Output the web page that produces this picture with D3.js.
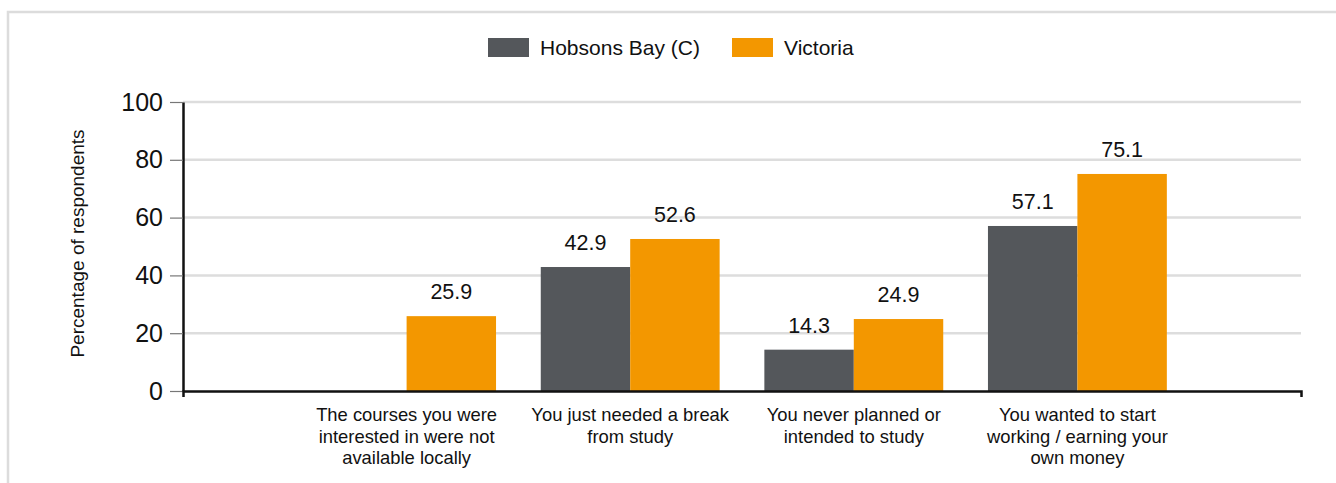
<!DOCTYPE html>
<html>
<head>
<meta charset="utf-8">
<script src="https://cdn.jsdelivr.net/npm/d3@7"></script>
<style>
  body { margin: 0; background: #fff; font-family: "Liberation Sans", Arial, sans-serif; }
  #chart { position: absolute; left: 0; top: 0; }
</style>
</head>
<body>
<div id="chart"></div>
<script>
const categories = [
  "The courses you were interested in were not available locally",
  "You just needed a break from study",
  "You never planned or intended to study",
  "You wanted to start working / earning your own money"
];
const categoryLines = [
  ["The courses you were", "interested in were not", "available locally"],
  ["You just needed a break", "from study"],
  ["You never planned or", "intended to study"],
  ["You wanted to start", "working / earning your", "own money"]
];
const seriesNames = ["Hobsons Bay (C)", "Victoria"];
const hobsonsBay = [null, 42.9, 14.3, 57.1];
const victoria = [25.9, 52.6, 24.9, 75.1];
const yTicks = [0, 20, 40, 60, 80, 100];

const width = 1336, height = 483;
const margin = { top: 102, right: 35, bottom: 92, left: 183 };
const colors = { "Hobsons Bay (C)": "#54575b", "Victoria": "#f39700" };

const svg = d3.select("#chart").append("svg")
  .attr("width", width)
  .attr("height", height);

// outer frame (extends past the window on the right / bottom)
svg.append("rect")
  .attr("x", 8).attr("y", 12)
  .attr("width", 1400).attr("height", 600)
  .attr("fill", "none")
  .attr("stroke", "#dcdcdc")
  .attr("stroke-width", 2.5);

const x = d3.scaleBand()
  .domain(categories)
  .range([margin.left, width - margin.right])
  .paddingInner(0.2)
  .paddingOuter(0.6);

const xSeries = d3.scaleBand()
  .domain(seriesNames)
  .range([0, x.bandwidth()]);

const y = d3.scaleLinear()
  .domain([0, 100])
  .range([height - margin.bottom, margin.top]);

// gridlines
svg.append("g")
  .selectAll("line")
  .data(yTicks.filter(d => d > 0))
  .join("line")
  .attr("x1", margin.left)
  .attr("x2", width - margin.right)
  .attr("y1", d => y(d))
  .attr("y2", d => y(d))
  .attr("stroke", "#dddddd")
  .attr("stroke-width", 2.5);

const rows = categories.map((c, i) => ({
  category: c,
  values: [
    { series: seriesNames[0], value: hobsonsBay[i] },
    { series: seriesNames[1], value: victoria[i] }
  ]
}));

const groups = svg.append("g")
  .selectAll("g")
  .data(rows)
  .join("g")
  .attr("transform", d => `translate(${x(d.category)},0)`);

const bars = groups.selectAll("g")
  .data(d => d.values.filter(v => v.value != null))
  .join("g");

bars.append("rect")
  .attr("x", d => xSeries(d.series))
  .attr("y", d => y(d.value))
  .attr("width", xSeries.bandwidth())
  .attr("height", d => y(0) - y(d.value))
  .attr("fill", d => colors[d.series]);

bars.append("text")
  .attr("x", d => xSeries(d.series) + xSeries.bandwidth() / 2)
  .attr("y", d => y(d.value) - 17)
  .attr("text-anchor", "middle")
  .style("font-size", "21.5px")
  .attr("fill", "#111")
  .text(d => d.value.toFixed(1));

// y axis
const yAxis = svg.append("g")
  .attr("transform", `translate(${margin.left},0)`)
  .call(d3.axisLeft(y).tickValues(yTicks).tickSize(13).tickSizeOuter(0).tickPadding(7));
yAxis.select(".domain").attr("stroke", "#111").attr("stroke-width", 2.5);
yAxis.selectAll(".tick line").attr("stroke", "#777").attr("stroke-width", 1.2);
yAxis.selectAll("text")
  .style("font-size", "25px")
  .style("font-family", "'Liberation Sans', Arial, sans-serif")
  .attr("fill", "#111");

// x axis: line with end ticks only
const xAxis = svg.append("g")
  .attr("transform", `translate(0,${y(0)})`)
  .call(d3.axisBottom(x).tickSize(0).tickSizeOuter(6).tickFormat(""));
xAxis.select(".domain").attr("stroke", "#111").attr("stroke-width", 2.5);

// category labels
const labels = svg.append("g")
  .selectAll("text")
  .data(categories)
  .join("text")
  .attr("x", d => x(d) + x.bandwidth() / 2)
  .attr("y", 421)
  .attr("text-anchor", "middle")
  .style("font-size", "18.4px")
  .attr("fill", "#111");
labels.selectAll("tspan")
  .data((d, i) => categoryLines[i])
  .join("tspan")
  .attr("x", function () { return d3.select(this.parentNode).attr("x"); })
  .attr("dy", (d, i) => i === 0 ? 0 : 21.5)
  .text(d => d);

// y title
svg.append("text")
  .attr("transform", `translate(84,${(y(0) + y(100)) / 2 - 3}) rotate(-90)`)
  .attr("text-anchor", "middle")
  .style("font-size", "19px")
  .attr("fill", "#111")
  .text("Percentage of respondents");

// legend
const legendItems = [
  { name: seriesNames[0], x: 488 },
  { name: seriesNames[1], x: 732 }
];
const legend = svg.append("g")
  .selectAll("g")
  .data(legendItems)
  .join("g")
  .attr("transform", d => `translate(${d.x},38)`);
legend.append("rect")
  .attr("width", 41)
  .attr("height", 19)
  .attr("fill", d => colors[d.name]);
legend.append("text")
  .attr("x", 52)
  .attr("y", 16.5)
  .style("font-size", "21px")
  .attr("fill", "#111")
  .text(d => d.name);
</script>
</body>
</html>
